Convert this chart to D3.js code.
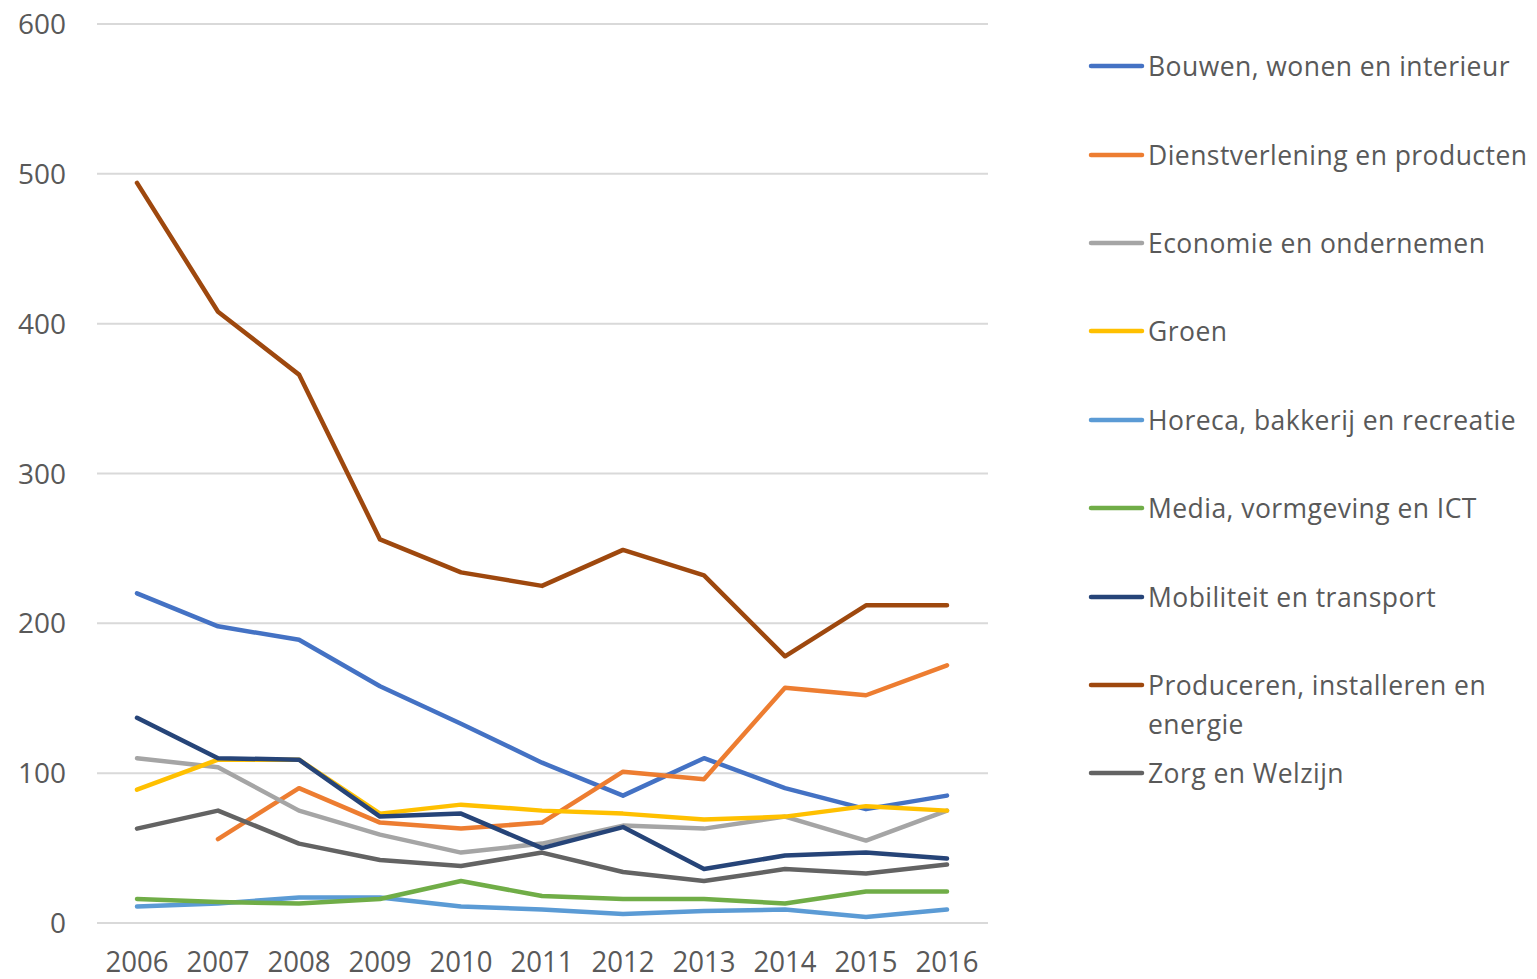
<!DOCTYPE html>
<html>
<head>
<meta charset="utf-8">
<script src="https://cdn.jsdelivr.net/npm/d3@7"></script>
<style>
  body { margin: 0; background: #fff; }
  text { font-family: "Open Sans", sans-serif; fill: #595959; }
</style>
</head>
<body>
<svg width="1537" height="979"></svg>
<script>
const years = [2006, 2007, 2008, 2009, 2010, 2011, 2012, 2013, 2014, 2015, 2016]
const yTicks = [0, 100, 200, 300, 400, 500, 600]

const names = [
  "Bouwen, wonen en interieur",
  "Dienstverlening en producten",
  "Economie en ondernemen",
  "Groen",
  "Horeca, bakkerij en recreatie",
  "Media, vormgeving en ICT",
  "Mobiliteit en transport",
  "Produceren, installeren en energie",
  "Zorg en Welzijn"
]

const bouwen = [220, 198, 189, 158, 133, 107, 85, 110, 90, 76, 85]
const dienst = [null, 56, 90, 67, 63, 67, 101, 96, 157, 152, 172]
const economie = [110, 104, 75, 59, 47, 53, 65, 63, 71, 55, 75]
const groen = [89, 109, 109, 73, 79, 75, 73, 69, 71, 78, 75]
const horeca = [11, 13, 17, 17, 11, 9, 6, 8, 9, 4, 9]
const media = [16, 14, 13, 16, 28, 18, 16, 16, 13, 21, 21]
const mobiliteit = [137, 110, 109, 71, 73, 50, 64, 36, 45, 47, 43]
const produceren = [494, 408, 366, 256, 234, 225, 249, 232, 178, 212, 212]
const zorg = [63, 75, 53, 42, 38, 47, 34, 28, 36, 33, 39]

const seriesValues = [bouwen, dienst, economie, groen, horeca, media, mobiliteit, produceren, zorg]
const colors = ["#4472C4", "#ED7D31", "#A5A5A5", "#FFC000", "#5B9BD5", "#70AD47", "#264478", "#9E480E", "#636363"]

const svg = d3.select("svg")

const x = d3.scalePoint().domain(years).range([137, 947])
const y = d3.scaleLinear().domain([0, 600]).range([923, 24])

// gridlines
svg.append("g")
  .selectAll("line")
  .data(yTicks)
  .enter().append("line")
  .attr("x1", 97).attr("x2", 988)
  .attr("y1", d => y(d)).attr("y2", d => y(d))
  .attr("stroke", "#d9d9d9")
  .attr("stroke-width", 2)

// y tick labels
svg.append("g")
  .selectAll("text")
  .data(yTicks)
  .enter().append("text")
  .attr("x", 66)
  .attr("y", d => y(d))
  .attr("dy", "0.36em")
  .attr("text-anchor", "end")
  .attr("textLength", d => String(d).length * 16)
  .attr("lengthAdjust", "spacingAndGlyphs")
  .style("font-size", "28px")
  .text(d => d)

// x tick labels (squeezed like in the original)
svg.append("g")
  .selectAll("text")
  .data(years)
  .enter().append("text")
  .attr("x", d => x(d))
  .attr("y", 972)
  .attr("text-anchor", "middle")
  .attr("textLength", 63)
  .attr("lengthAdjust", "spacingAndGlyphs")
  .style("font-size", "29px")
  .text(d => d)

const line = d3.line()
  .defined(d => d.v != null)
  .x(d => x(d.year))
  .y(d => y(d.v))

const series = names.map((name, i) => ({
  name: name,
  color: colors[i],
  points: years.map((yr, j) => ({year: yr, v: seriesValues[i][j]}))
}))

svg.append("g")
  .selectAll("path")
  .data(series)
  .enter().append("path")
  .attr("d", d => line(d.points))
  .attr("fill", "none")
  .attr("stroke", d => d.color)
  .attr("stroke-width", 4.5)
  .attr("stroke-linejoin", "round")
  .attr("stroke-linecap", "round")

// legend
const legendY = [66, 155, 243, 331, 420, 508, 597, 685, 773]
const legend = svg.append("g")
  .selectAll("g")
  .data(series)
  .enter().append("g")
  .attr("transform", (d, i) => `translate(0,${legendY[i]})`)

legend.append("line")
  .attr("x1", 1091).attr("x2", 1142)
  .attr("y1", 0).attr("y2", 0)
  .attr("stroke", d => d.color)
  .attr("stroke-width", 4.5)
  .attr("stroke-linecap", "round")

legend.append("text")
  .attr("x", 1148)
  .attr("y", 0)
  .attr("dy", "0.36em")
  .style("font-size", "26.5px")
  .style("letter-spacing", "0.45px")
  .each(function(d) {
    const t = d3.select(this)
    if (d.name === "Produceren, installeren en energie") {
      t.append("tspan").attr("x", 1148).text("Produceren, installeren en")
      t.append("tspan").attr("x", 1148).attr("dy", 39).text("energie")
    } else {
      t.text(d.name)
    }
  })
</script>
</body>
</html>
